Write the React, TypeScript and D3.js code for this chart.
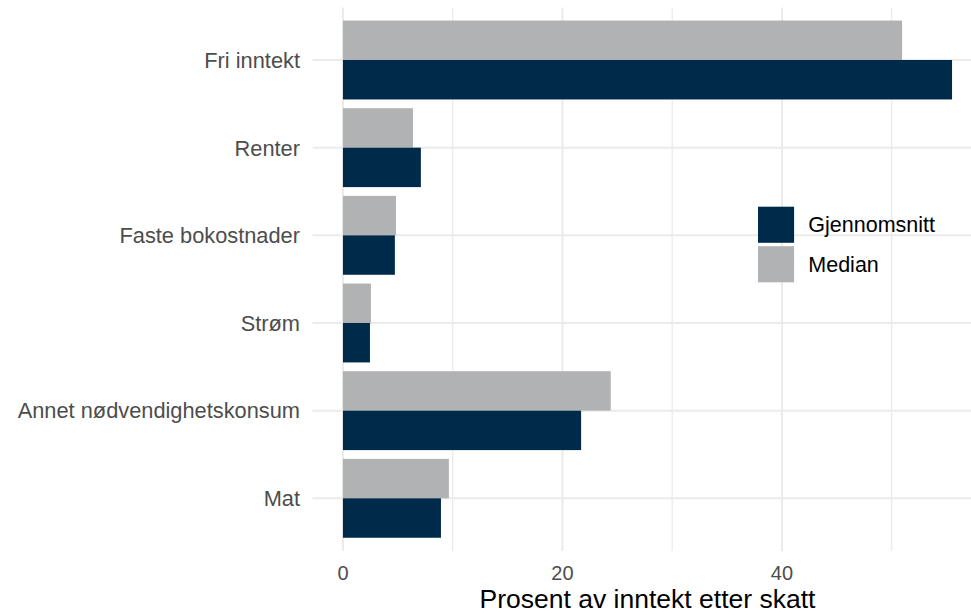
import { useEffect, useRef } from 'react';
import * as d3 from 'd3';

const categories = ['Fri inntekt', 'Renter', 'Faste bokostnader', 'Strøm', 'Annet nødvendighetskonsum', 'Mat'];
const gjennomsnitt = [55.5, 7.1, 4.73, 2.46, 21.7, 8.93];
const median = [50.95, 6.38, 4.83, 2.55, 24.4, 9.65];
const seriesNames = ['Gjennomsnitt', 'Median'];
const seriesColors = ['#002A4A', '#B1B2B4'];
const xTicks = [0, 20, 40];
const xMinorTicks = [10, 30, 50];
const xTitle = 'Prosent av inntekt etter skatt';

export default function App() {
  const ref = useRef<SVGSVGElement>(null);

  useEffect(() => {
    if (!ref.current) return;
    document.body.style.margin = '0';
    const svg = d3.select(ref.current);
    svg.selectAll('*').remove();

    const font = '"Liberation Sans", Arial, Helvetica, sans-serif';
    const panel = { left: 312.5, right: 982.5, top: 7.4, bottom: 550.9 };

    const maxVal = d3.max([...gjennomsnitt, ...median])!;
    const x = d3.scaleLinear()
      .domain([-0.05 * maxVal, maxVal * 1.05])
      .range([panel.left, panel.right]);

    const y = d3.scalePoint<string>()
      .domain(categories)
      .range([panel.top, panel.bottom])
      .padding(0.6);

    const step = y.step();
    const barH = step * 0.9 / 2;

    // rutenett
    const grid = svg.append('g');
    grid.selectAll('line.minor')
      .data(xMinorTicks)
      .enter().append('line')
      .attr('x1', d => x(d)).attr('x2', d => x(d))
      .attr('y1', panel.top).attr('y2', panel.bottom)
      .attr('stroke', '#EBEBEB').attr('stroke-width', 1.3);
    grid.selectAll('line.major')
      .data(xTicks)
      .enter().append('line')
      .attr('x1', d => x(d)).attr('x2', d => x(d))
      .attr('y1', panel.top).attr('y2', panel.bottom)
      .attr('stroke', '#EBEBEB').attr('stroke-width', 2);
    grid.selectAll('line.h')
      .data(categories)
      .enter().append('line')
      .attr('x1', panel.left).attr('x2', panel.right)
      .attr('y1', d => y(d)!).attr('y2', d => y(d)!)
      .attr('stroke', '#EBEBEB').attr('stroke-width', 2);

    // median øverst, gjennomsnitt nederst
    const bars = svg.append('g');
    bars.selectAll('rect.median')
      .data(categories)
      .enter().append('rect')
      .attr('x', x(0))
      .attr('y', d => y(d)! - barH)
      .attr('width', (d, i) => x(median[i]) - x(0))
      .attr('height', barH)
      .attr('fill', seriesColors[1]);
    bars.selectAll('rect.mean')
      .data(categories)
      .enter().append('rect')
      .attr('x', x(0))
      .attr('y', d => y(d)!)
      .attr('width', (d, i) => x(gjennomsnitt[i]) - x(0))
      .attr('height', barH)
      .attr('fill', seriesColors[0]);

    // y-akse
    svg.append('g').selectAll('text')
      .data(categories)
      .enter().append('text')
      .attr('x', 300)
      .attr('y', d => y(d)!)
      .attr('dy', '0.36em')
      .attr('text-anchor', 'end')
      .style('font-family', font)
      .style('font-size', '21.8px')
      .attr('fill', '#4D4D4D')
      .text(d => d);

    // x-akse
    svg.append('g').selectAll('text')
      .data(xTicks)
      .enter().append('text')
      .attr('x', d => x(d))
      .attr('y', 580)
      .attr('text-anchor', 'middle')
      .style('font-family', font)
      .style('font-size', '20px')
      .attr('fill', '#4D4D4D')
      .text(d => d);

    svg.append('text')
      .attr('x', (panel.left + panel.right) / 2)
      .attr('y', 608)
      .attr('text-anchor', 'middle')
      .style('font-family', font)
      .style('font-size', '26.5px')
      .attr('fill', '#000000')
      .text(xTitle);

    // legende
    const slot = 39.5;
    const legend = svg.append('g').attr('transform', 'translate(756.3,205)');
    seriesNames.forEach((name, i) => {
      legend.append('rect')
        .attr('x', 1.7)
        .attr('y', i * slot + 1.7)
        .attr('width', slot - 3.4)
        .attr('height', slot - 3.4)
        .attr('fill', seriesColors[i]);
      legend.append('text')
        .attr('x', 52)
        .attr('y', i * slot + slot / 2)
        .attr('dy', '0.36em')
        .style('font-family', font)
        .style('font-size', '21.5px')
        .attr('fill', '#000000')
        .text(name);
    });
  }, []);

  return <svg ref={ref} width={971} height={615} style={{ display: 'block', background: '#fff' }} />;
}
